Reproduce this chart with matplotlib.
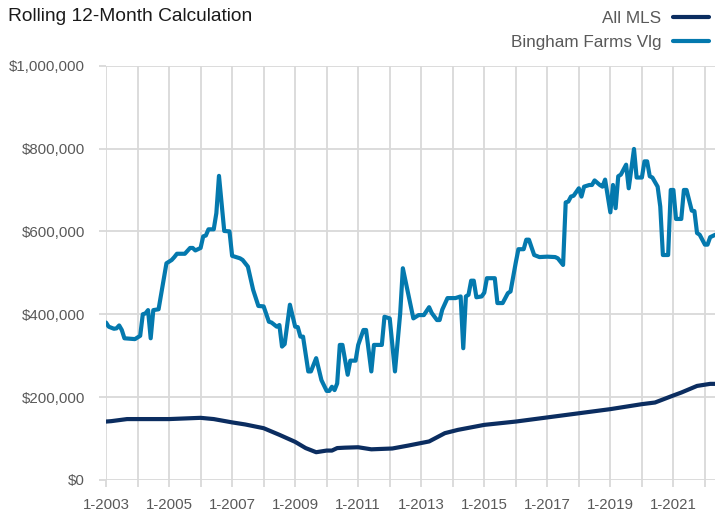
import matplotlib
matplotlib.use("Agg")
import matplotlib.pyplot as plt
from matplotlib.ticker import FuncFormatter

plt.rcParams['font.family'] = ['Liberation Sans Narrow', 'Liberation Sans', 'DejaVu Sans']

# monthly points (values in $1000s)
bingham_months = [
    '2003-01', '2003-02', '2003-04', '2003-05', '2003-06', '2003-07', '2003-08', '2003-12',
    '2004-02', '2004-03', '2004-04', '2004-05', '2004-06', '2004-07', '2004-09', '2004-12',
    '2005-02', '2005-03', '2005-04', '2005-07', '2005-09', '2005-10', '2005-11',
    '2006-01', '2006-02', '2006-03', '2006-04', '2006-06', '2006-07', '2006-08', '2006-10', '2006-12',
    '2007-01', '2007-04', '2007-05', '2007-07', '2007-09', '2007-11',
    '2008-01', '2008-03', '2008-04', '2008-06', '2008-07', '2008-08', '2008-09', '2008-11',
    '2009-01', '2009-02', '2009-03', '2009-04', '2009-06', '2009-07', '2009-09', '2009-11',
    '2010-01', '2010-02', '2010-03', '2010-04', '2010-05', '2010-06', '2010-07', '2010-09',
    '2010-10', '2010-12',
    '2011-01', '2011-03', '2011-04', '2011-06', '2011-07', '2011-10', '2011-11',
    '2012-01', '2012-03', '2012-05', '2012-06', '2012-10', '2012-12',
    '2013-02', '2013-04', '2013-05', '2013-07', '2013-08', '2013-09', '2013-11',
    '2014-02', '2014-04', '2014-05', '2014-06', '2014-07', '2014-08', '2014-09', '2014-10',
    '2014-12',
    '2015-01', '2015-02', '2015-05', '2015-06', '2015-08', '2015-10', '2015-11',
    '2016-01', '2016-02', '2016-04', '2016-05', '2016-06', '2016-08', '2016-10',
    '2017-01', '2017-04', '2017-05', '2017-07', '2017-08', '2017-09', '2017-10', '2017-11',
    '2018-01', '2018-02', '2018-03', '2018-05', '2018-06', '2018-07', '2018-09', '2018-10',
    '2018-11',
    '2019-01', '2019-02', '2019-03', '2019-04', '2019-05', '2019-07', '2019-08', '2019-10',
    '2019-11',
    '2020-01', '2020-02', '2020-03', '2020-04', '2020-05', '2020-07', '2020-08', '2020-09',
    '2020-11', '2020-12',
    '2021-01', '2021-02', '2021-04', '2021-05', '2021-06', '2021-08', '2021-09', '2021-10',
    '2021-11',
    '2022-01', '2022-02', '2022-03', '2022-05',
]
bingham_values = [
    380, 370, 365, 366, 373, 362, 342, 340,
    348, 400, 402, 410, 342, 410, 412, 523,
    531, 538, 546, 546, 560, 560, 554,
    560, 588, 590, 605, 605, 644, 734, 601, 600,
    541, 535, 531, 515, 459, 420,
    419, 382, 380, 370, 374, 322, 328, 423,
    370, 369, 346, 346, 262, 262, 294, 241,
    215, 215, 225, 217, 233, 326, 326, 254,
    288, 288,
    326, 362, 362, 262, 326, 326, 394,
    390, 262, 403, 511, 390, 398,
    398, 417, 403, 386, 386, 411, 439,
    439, 443, 318, 443, 447, 481, 481, 441,
    443,
    452, 487, 487, 427, 427, 451, 455,
    525, 557, 557, 580, 580, 543, 538,
    539, 538, 535, 519, 670, 672, 684, 686,
    704, 684, 708, 712, 712, 723, 712, 708,
    725,
    646, 712, 656, 733, 737, 761, 704, 799,
    730,
    730, 769, 769, 733, 730, 708, 660, 543,
    543, 700,
    700, 630, 630, 700, 700, 650, 649, 596,
    592,
    568, 568, 586, 592,
]

mls_months = [
    '2003-01', '2003-03', '2003-09', '2005-01', '2006-01', '2006-06', '2007-01', '2007-06',
    '2008-01', '2008-07', '2009-01', '2009-05', '2009-09', '2010-01', '2010-03', '2010-05',
    '2010-08', '2011-01', '2011-06', '2012-02', '2012-08', '2013-04', '2013-10', '2014-03',
    '2015-01', '2016-01', '2017-01', '2018-01', '2019-01', '2020-01', '2020-06', '2021-01',
    '2021-04', '2021-10', '2022-03', '2022-05',
]
mls_values = [
    141, 142, 147, 147, 150, 147, 139, 134,
    125, 109, 92, 77, 67, 71, 71, 77,
    78, 79, 74, 76, 83, 93, 113, 121,
    133, 141, 151, 161, 171, 183, 187, 204,
    211, 227, 232, 232,
]

series_names = ['All MLS', 'Bingham Farms Vlg']
year_ticks = list(range(2003, 2023))


def ToYear(m):
    y, mo = m.split('-')
    return int(y) + (int(mo) - 1) / 12.0


def main():
    fig = plt.figure(figsize=(7.15, 5.15), dpi=100)
    ax = fig.add_axes([0.1483, 0.068, 0.8517, 0.8045])

    grid_col = '#d9d9d9'
    txt_col = '#595959'

    mls_x = [ToYear(m) for m in mls_months]
    bing_x = [ToYear(m) for m in bingham_months]

    l1, = ax.plot(mls_x, [v * 1000 for v in mls_values], color='#0b2d60', lw=3.0,
                  solid_joinstyle='round', solid_capstyle='round')
    l2, = ax.plot(bing_x, [v * 1000 for v in bingham_values], color='#0479ae', lw=3.0,
                  solid_joinstyle='round', solid_capstyle='round')

    ax.set_xlim(2003, 2022.32)
    ax.set_ylim(0, 1000000)
    ax.set_yticks(range(0, 1000001, 200000))
    ax.yaxis.set_major_formatter(FuncFormatter(lambda v, p: '${:,.0f}'.format(v)))
    ax.set_xticks(year_ticks)
    ax.set_xticklabels(['1-%d' % y if (y - 2003) % 2 == 0 else '' for y in year_ticks])

    ax.grid(True, color=grid_col, lw=1.3)
    ax.set_axisbelow(True)
    for s in ax.spines.values():
        s.set_visible(False)
    ax.tick_params(axis='both', colors=grid_col, length=5, width=1.3,
                   labelcolor=txt_col)
    ax.tick_params(axis='y', pad=10, labelsize=10.8)
    ax.tick_params(axis='x', pad=8, labelsize=10.8)

    fig.text(0.011, 0.985, 'Rolling 12-Month Calculation', fontsize=13.8, color='#1a1a1a',
             ha='left', va='top')

    fig.legend([l1, l2], series_names, loc='upper right', bbox_to_anchor=(0.998, 0.987),
               frameon=False, markerfirst=False, fontsize=12.3, labelcolor=txt_col,
               handlelength=2.1, handletextpad=0.7, labelspacing=0.55, borderaxespad=0.1,
               borderpad=0.15)

    fig.savefig('out.png', dpi=100)


main()
